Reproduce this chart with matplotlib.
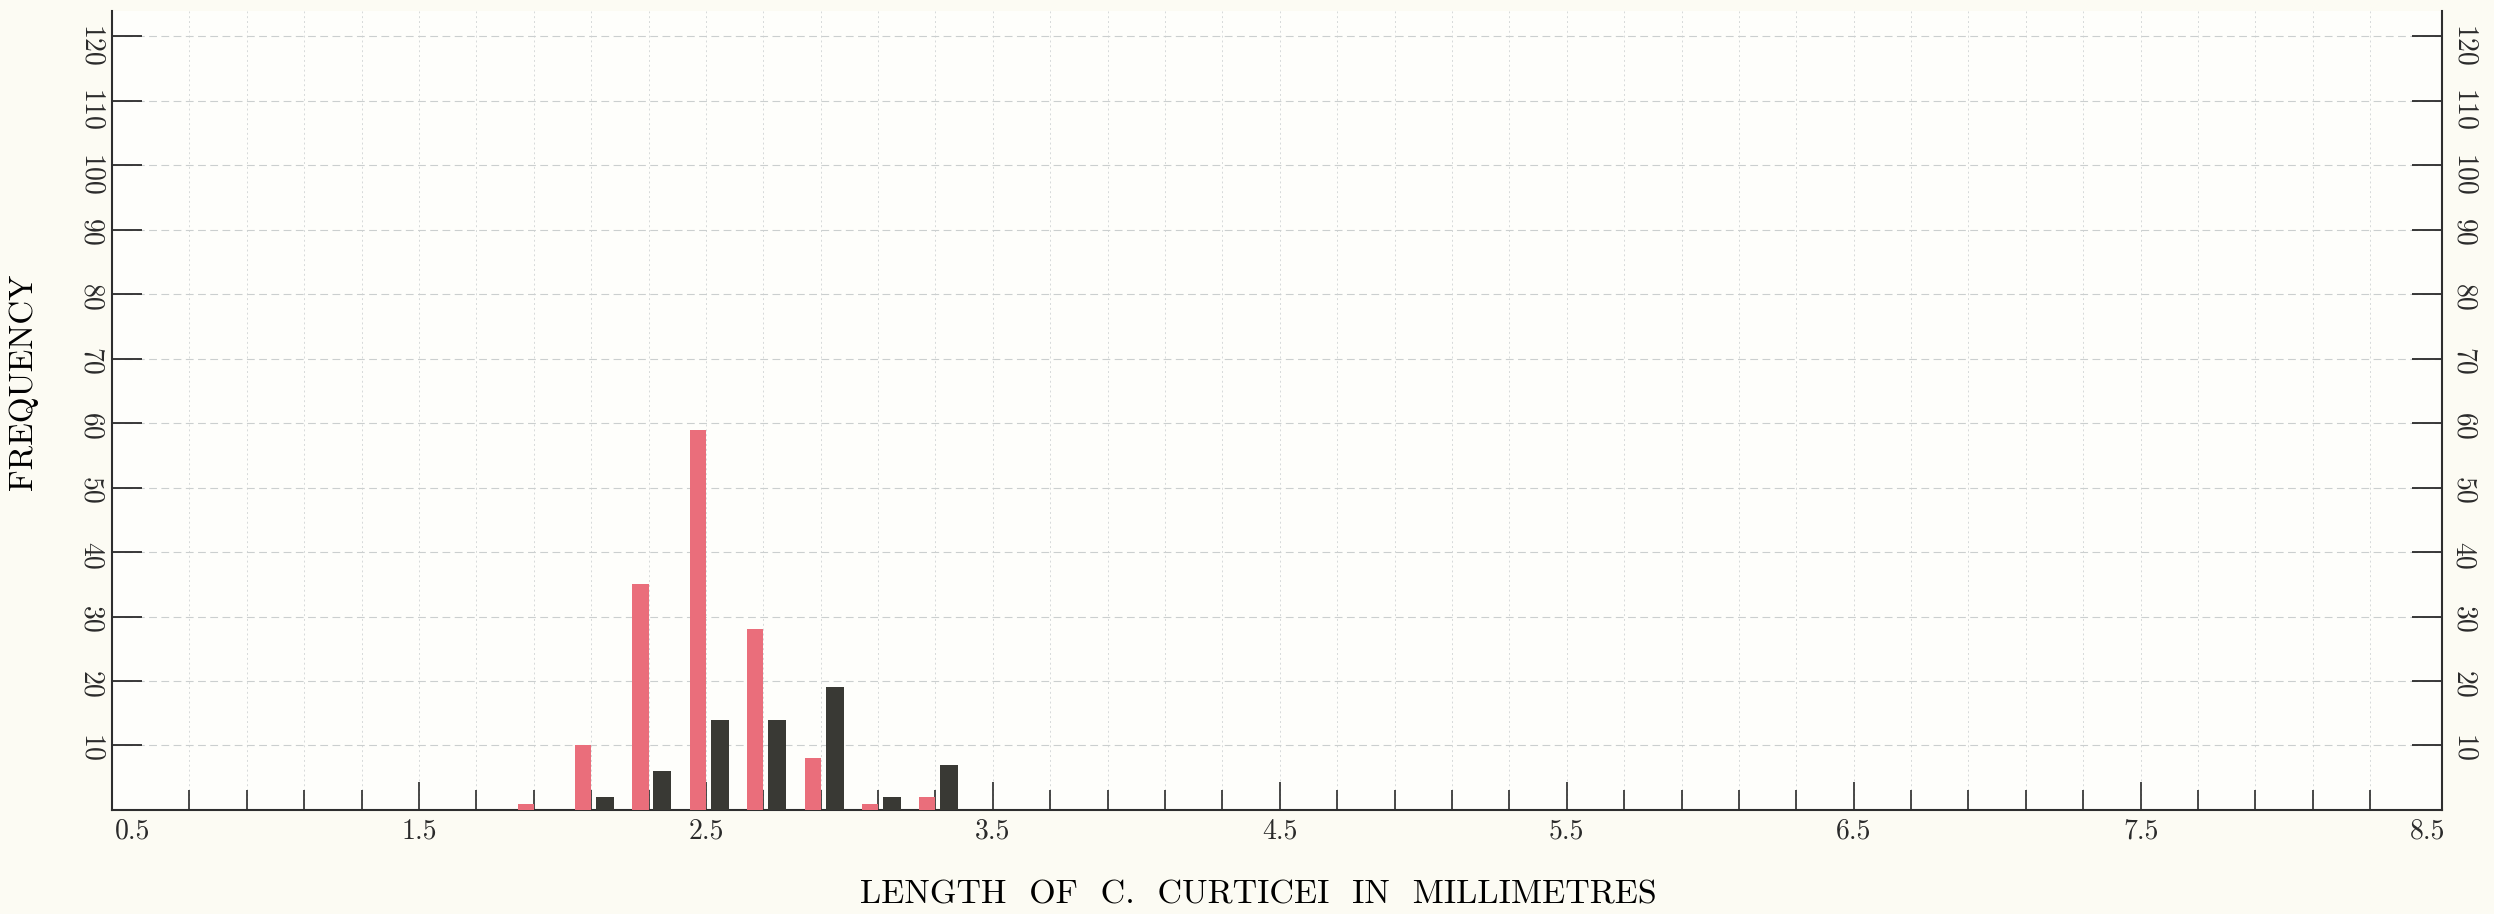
import numpy as np
import matplotlib.pyplot as plt

# data (bins of 0.2 mm)
lengths = [1.9, 2.1, 2.3, 2.5, 2.7, 2.9, 3.1, 3.3]
red_freq = [1, 10, 35, 59, 28, 8, 1, 2]
black_freq = [0, 2, 6, 14, 14, 19, 2, 7]

x_major = [0.5, 1.5, 2.5, 3.5, 4.5, 5.5, 6.5, 7.5, 8.5]
x_labels = ['0.5', '1.5', '2.5', '3.5', '4.5', '5.5', '6.5', '7.5', '8.5']
x_minor = np.round(np.arange(0.7, 8.35, 0.2), 1)
y_ticks = [10, 20, 30, 40, 50, 60, 70, 80, 90, 100, 110, 120]

plt.rcParams['font.family'] = ['cmr10', 'DejaVu Serif']
plt.rcParams['axes.formatter.use_mathtext'] = True

fig = plt.figure(figsize=(24.94, 9.14), dpi=100, facecolor='#fcfbf3')
ax = fig.add_axes([0.0449, 0.1138, 0.9342, 0.8742])
ax.set_facecolor('#fefefb')

# bars: red just left of the tick, black just right of it
x = np.array(lengths)
ax.bar(x, red_freq, width=-0.056, align='edge', color='#ea6e7b', zorder=3)
ax.bar(x + 0.017, black_freq, width=0.063, align='edge', color='#393934', zorder=3)

ax.set_xlim(0.43, 8.55)
ax.set_ylim(0, 123.9)

ax.set_xticks(x_major, x_labels)
ax.set_xticks(x_minor, minor=True)
ax.set_yticks(y_ticks, [str(v) for v in y_ticks])

ax.tick_params(axis='x', which='major', direction='in', length=20, width=1.2,
               pad=6, labelsize=20, colors='#2a2a2a')
ax.tick_params(axis='x', which='minor', direction='in', length=14.5, width=1.2,
               colors='#2a2a2a')
ax.tick_params(axis='y', direction='in', length=21.6, width=1.3, left=True,
               right=True, labelleft=True, labelright=True, labelsize=20,
               labelrotation=-90, pad=6, colors='#2a2a2a')

# faint grid
ax.grid(True, which='both', axis='x', color='#d6d9d9', linestyle=(0, (2, 3)), linewidth=0.7)
ax.grid(True, which='major', axis='y', color='#cbcfcf', linestyle=(0, (7, 4)), linewidth=0.8)
ax.set_axisbelow(True)

# no tick / grid at the ends
ticks = ax.xaxis.get_major_ticks()
for t in (ticks[0], ticks[-1]):
    t.tick1line.set_visible(False)
    t.gridline.set_visible(False)

ax.spines['top'].set_visible(False)
for s in ['left', 'right', 'bottom']:
    ax.spines[s].set_color('#2e2e2e')
    ax.spines[s].set_linewidth(1.5)

ax.set_ylabel('FREQUENCY', fontsize=24)
ax.yaxis.set_label_coords(-0.0318, 0.5357)
ax.set_xlabel('LENGTH  OF  C.  CURTICEI  IN  MILLIMETRES', fontsize=24.5)
ax.xaxis.set_label_coords(0.492, -0.0876)

fig.savefig('out.png', dpi=100, facecolor=fig.get_facecolor())
